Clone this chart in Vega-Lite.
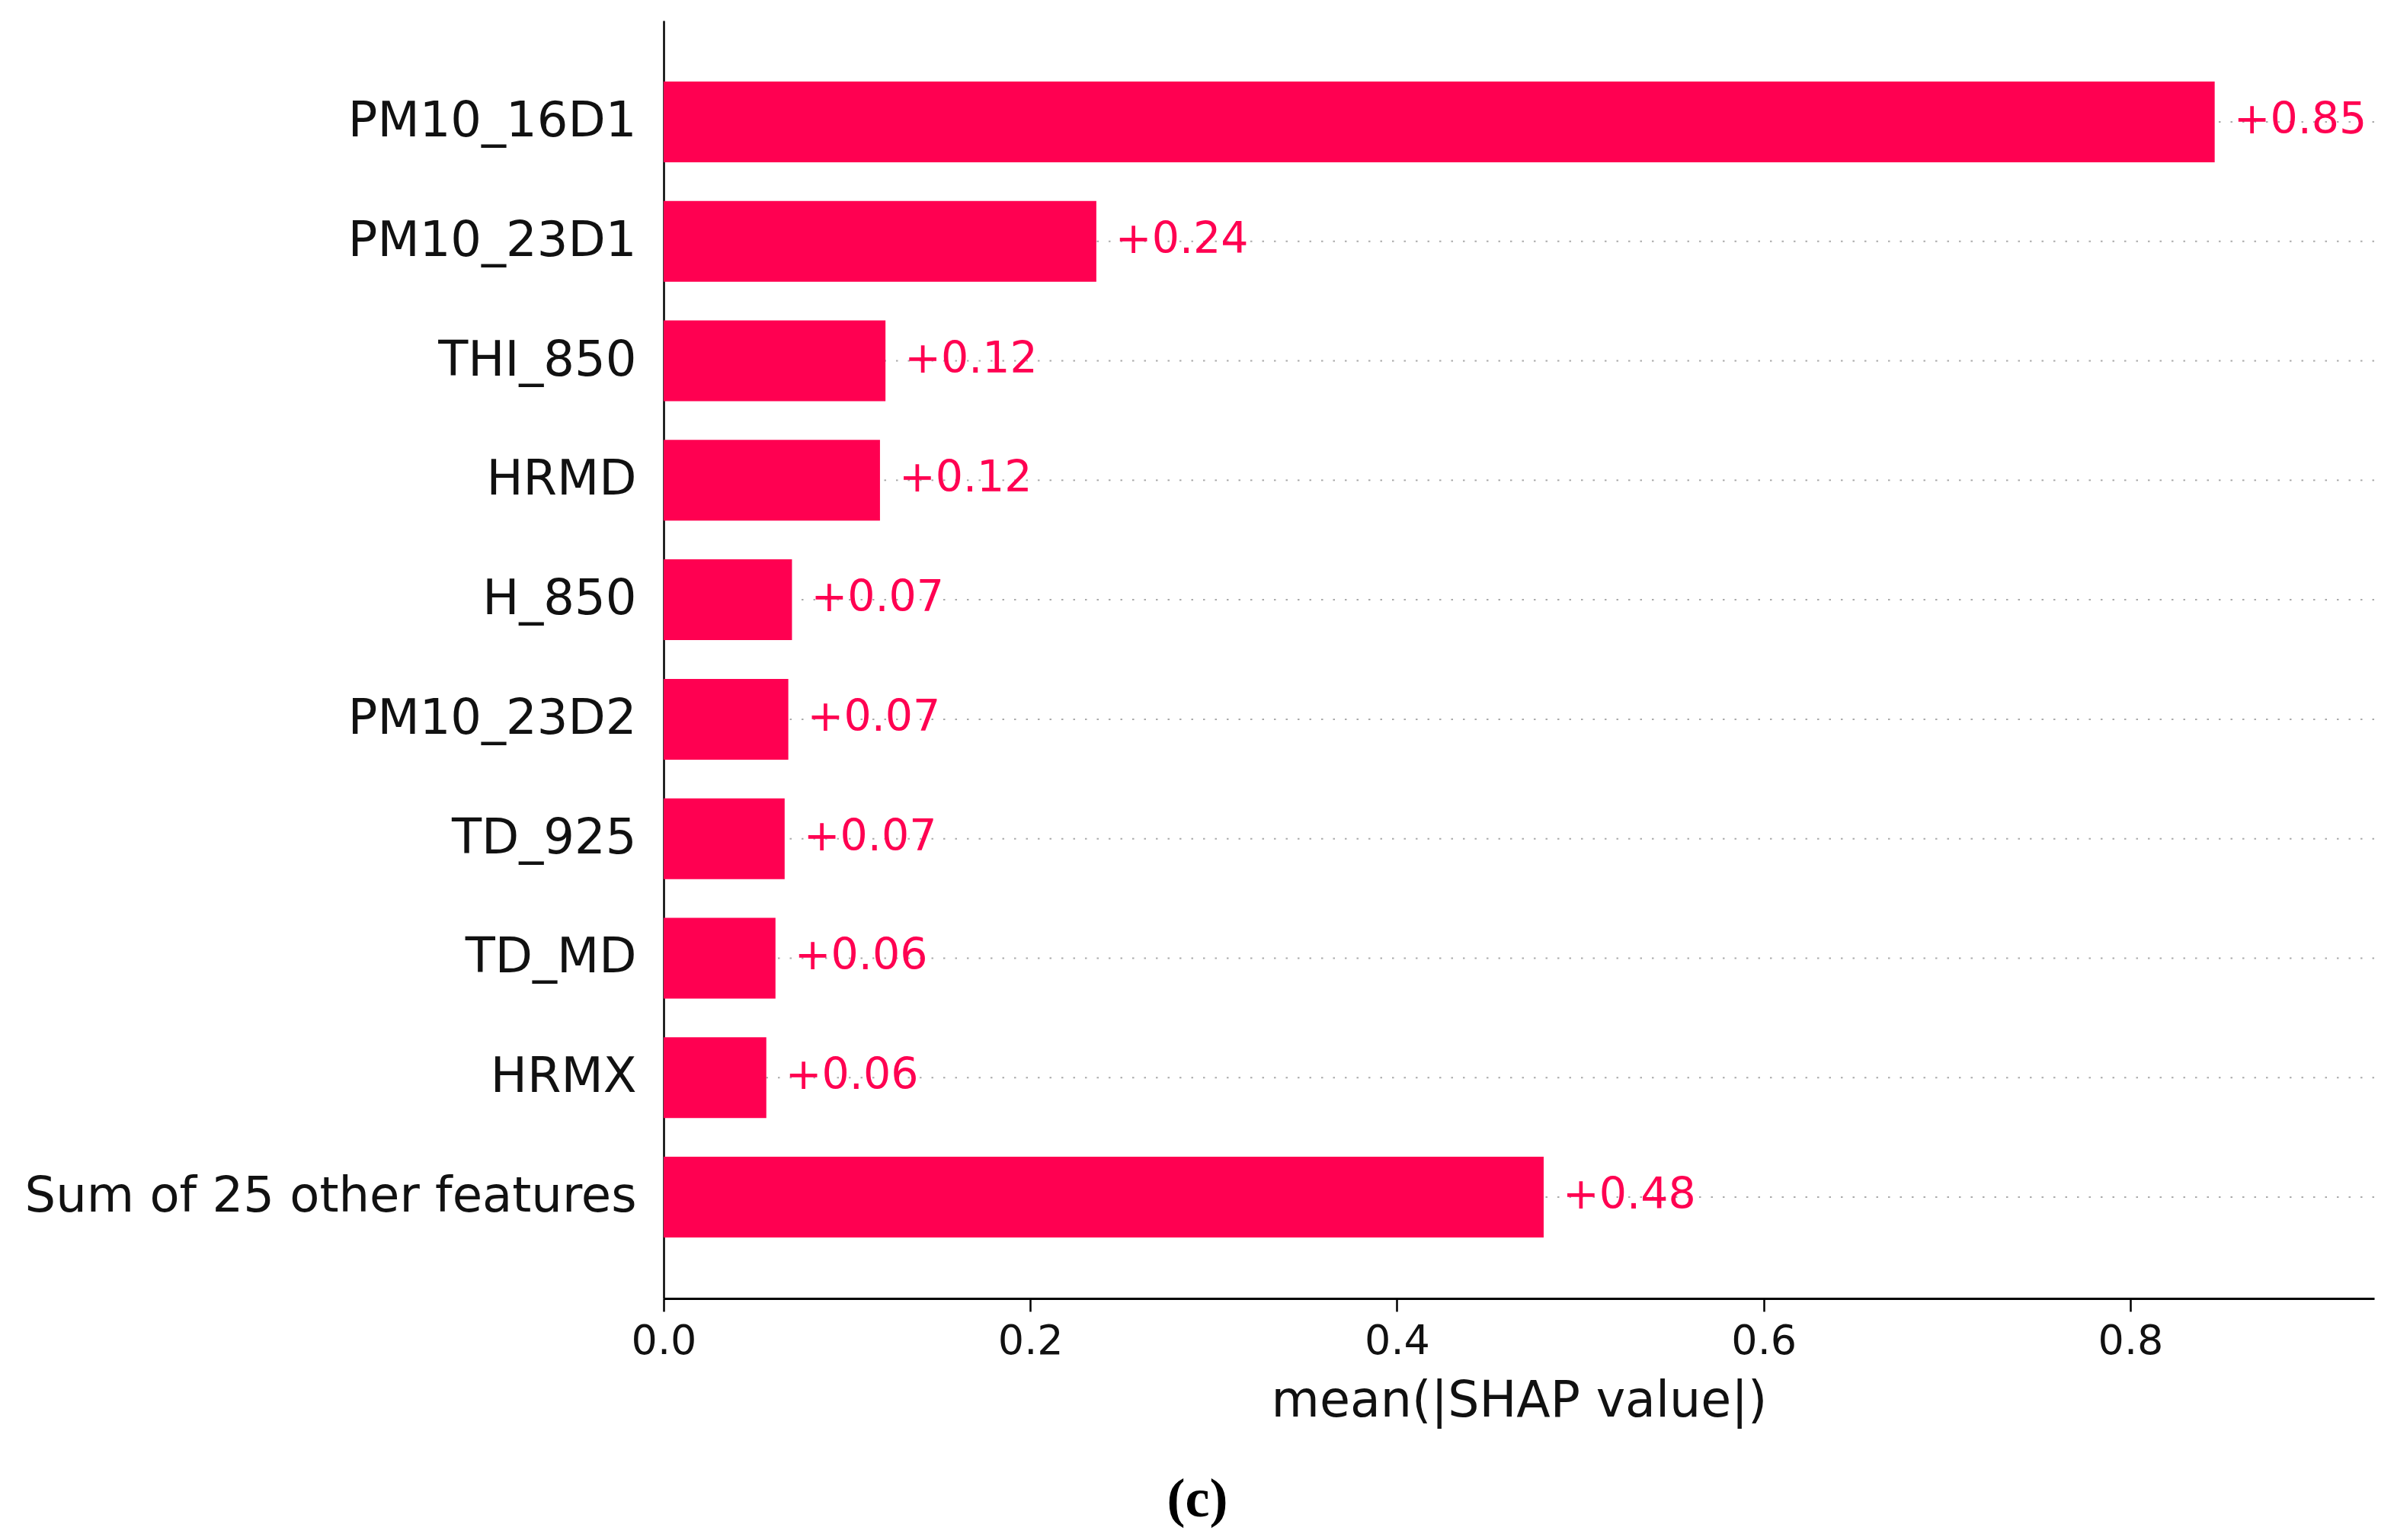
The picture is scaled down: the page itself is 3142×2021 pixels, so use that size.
{
  "$schema": "https://vega.github.io/schema/vega-lite/v6.json",
  "autosize": {"type": "none"},
  "width": 2245,
  "height": 1677,
  "padding": {"left": 871, "top": 27, "right": 26, "bottom": 317},
  "background": "white",
  "config": {
    "view": {"stroke": null},
    "font": "DejaVu Sans"
  },
  "title": {
    "text": "(c)",
    "orient": "bottom",
    "anchor": "middle",
    "frame": "group",
    "dx": -422,
    "offset": 62,
    "font": "Liberation Serif",
    "fontSize": 72,
    "fontWeight": "bold",
    "color": "#000000"
  },
  "data": {
    "values": [
      {"feature": "PM10_16D1", "value": 0.846},
      {"feature": "PM10_23D1", "value": 0.236},
      {"feature": "THI_850", "value": 0.121},
      {"feature": "HRMD", "value": 0.118},
      {"feature": "H_850", "value": 0.070},
      {"feature": "PM10_23D2", "value": 0.068},
      {"feature": "TD_925", "value": 0.066},
      {"feature": "TD_MD", "value": 0.061},
      {"feature": "HRMX", "value": 0.056},
      {"feature": "Sum of 25 other features", "value": 0.480}
    ]
  },
  "encoding": {
    "y": {
      "field": "feature",
      "type": "nominal",
      "sort": null,
      "scale": {"paddingInner": 0.324, "paddingOuter": 0.51},
      "axis": {
        "title": null,
        "ticks": false,
        "domainColor": "#000000",
        "domainWidth": 2.5,
        "labelFont": "DejaVu Sans",
        "labelFontSize": 64,
        "labelColor": "#111111",
        "labelPadding": 36,
        "labelLimit": 2000,
        "grid": false
      }
    }
  },
  "layer": [
    {
      "mark": {"type": "rule", "strokeDash": [2.5, 13], "color": "#aaaaaa", "strokeWidth": 2},
      "encoding": {}
    },
    {
      "mark": {"type": "bar", "color": "#ff0051"},
      "encoding": {
        "x": {
          "field": "value",
          "type": "quantitative",
          "scale": {"domain": [0, 0.933], "nice": false, "zero": true},
          "axis": {
            "title": "mean(|SHAP value|)",
            "values": [0, 0.2, 0.4, 0.6, 0.8],
            "format": ".1f",
            "grid": false,
            "domainColor": "#000000",
            "domainWidth": 3,
            "tickColor": "#000000",
            "tickWidth": 2.5,
            "tickSize": 17,
            "labelFont": "DejaVu Sans",
            "labelFontSize": 54,
            "labelColor": "#111111",
            "labelPadding": 12,
            "labelFlush": false,
            "titleFont": "DejaVu Sans",
            "titleFontSize": 65,
            "titleFontWeight": "normal",
            "titleColor": "#111111",
            "titlePadding": 20
          }
        }
      }
    },
    {
      "mark": {"type": "text", "align": "left", "baseline": "middle", "dx": 25, "dy": -2, "color": "#ff0051", "font": "DejaVu Sans", "fontSize": 57},
      "encoding": {
        "x": {"field": "value", "type": "quantitative"},
        "text": {"field": "value", "type": "quantitative", "format": "+.2f"}
      }
    }
  ]
}
